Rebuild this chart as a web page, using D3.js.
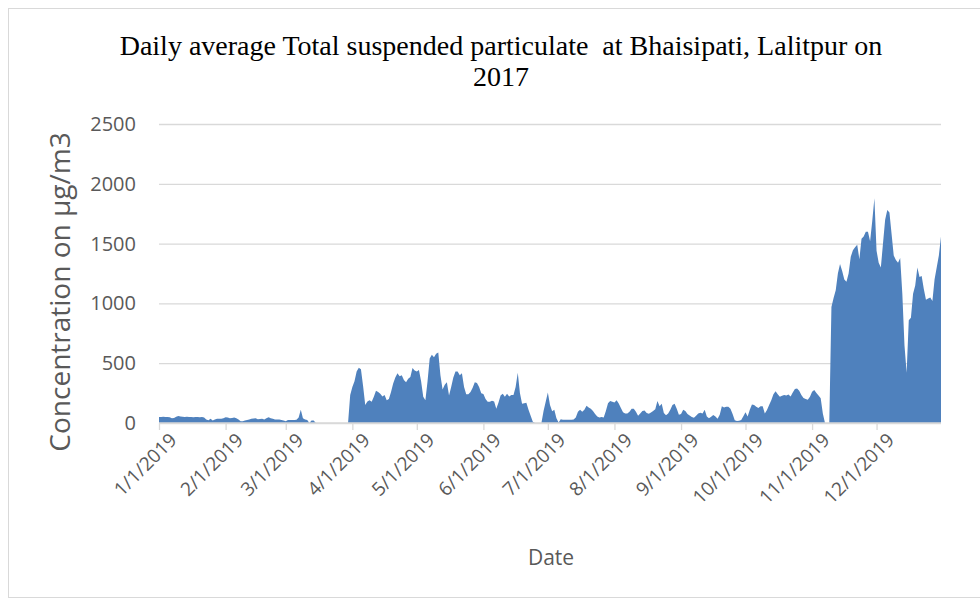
<!DOCTYPE html>
<html>
<head>
<meta charset="utf-8">
<script src="https://cdnjs.cloudflare.com/ajax/libs/d3/7.8.5/d3.min.js"></script>
<style>
  body { margin: 0; background: #fff; }
  svg { display: block; }
</style>
</head>
<body>
<svg id="canvas"></svg>
<script>
/***********************************************************************/
// Data (daily TSP, one array per month; 0 = no reading)

var jan = [50,50,52,50,50,48,40,42,52,58,55,52,50,52,50,50,48,50,50,48,50,45,30,22,35,20,30,35,35,35,40];
var feb = [48,45,40,42,45,40,30,15,15,20,25,30,35,38,40,32,33,35,30,40,48,40,35,30,30,30,25,20];
var mar = [15,25,25,25,25,28,45,110,40,30,25,0,20,20,0,0,0,0,0,0,0,0,0,0,0,0,0,0,0,0,234];
var apr = [300,350,430,462,450,310,150,180,190,178,220,270,260,245,222,234,190,200,260,330,380,415,390,400,360,340,370,385,460,440];
var may = [430,443,350,220,190,350,540,570,550,580,590,400,280,320,340,230,300,380,430,430,400,415,300,240,240,260,295,340,335,300,248];
var jun = [242,200,178,178,185,180,120,170,230,245,220,245,222,234,234,300,420,250,160,165,170,110,60,10,0,0,0,0,100,178];
var jul = [256,150,98,110,40,5,31,28,28,28,28,28,30,45,95,110,95,110,145,130,120,100,75,55,45,50,45,100,165,184,178];
var aug = [172,190,164,125,90,80,80,95,120,120,95,60,80,100,105,84,78,88,100,115,184,140,160,84,65,80,110,150,160,120,70];
var sep = [75,110,100,75,62,50,44,60,80,86,80,110,55,40,53,67,55,35,70,140,130,135,135,120,75,22,17,18,25,56];
var oct = [90,55,110,155,150,135,125,140,140,80,109,150,190,240,265,240,220,228,235,230,238,222,255,285,288,270,235,210,200,195,220];
var nov = [262,276,250,230,206,80,0,0,0,970,1045,1110,1250,1330,1270,1200,1180,1250,1390,1445,1470,1490,1370,1540,1560,1600,1600,1520,1690,1880];
var dec = [1440,1340,1300,1500,1700,1780,1760,1580,1400,1363,1340,1380,1080,650,420,860,880,1080,1150,1300,1220,1230,1120,1030,1040,1050,1020,1200,1300,1400,1560];

var xTickLabels = ['1/1/2019','2/1/2019','3/1/2019','4/1/2019','5/1/2019','6/1/2019',
                   '7/1/2019','8/1/2019','9/1/2019','10/1/2019','11/1/2019','12/1/2019'];
var yTicks = [0, 500, 1000, 1500, 2000, 2500];

var titleLines = ['Daily average Total suspended particulate  at Bhaisipati, Lalitpur on', '2017'];
var yTitle = 'Concentration on \u03bcg/m3';
var xTitle = 'Date';

/***********************************************************************/
// Layout

var width = 980, height = 601;
var plot = { left: 159, right: 941, top: 124, bottom: 423 };
var grey = '#595959', gridColor = '#d9d9d9', fillColor = '#4f81bd';

var parseDate = d3.timeParse('%m/%d/%Y');

var values = [].concat(jan, feb, mar, apr, may, jun, jul, aug, sep, oct, nov, dec);
var days = d3.timeDay.range(new Date(2019, 0, 1), new Date(2020, 0, 1));
var series = days.map((d, i) => { return { date: d, value: values[i] } });

var svg = d3.select('#canvas').attr('width', width).attr('height', height);

// chart frame
svg.append('rect')
  .attr('x', 8.5).attr('y', 8.5).attr('width', 1000).attr('height', 589)
  .attr('fill', 'none').attr('stroke', gridColor).attr('stroke-width', 1);

var xScale = d3.scaleTime()
  .domain([days[0], days[days.length - 1]])
  .range([plot.left, plot.right]);

var yScale = d3.scaleLinear().domain([0, 2500]).range([plot.bottom, plot.top]);

/***********************************************************************/
// Grid + y axis

var yAxis = d3.axisLeft(yScale).tickValues(yTicks).tickFormat(d3.format('d'))
  .tickSize(-(plot.right - plot.left)).tickPadding(23);
var yG = svg.append('g').attr('transform', 'translate(' + plot.left + ',0)').call(yAxis);
yG.select('.domain').remove();
yG.selectAll('line').attr('stroke', gridColor).attr('stroke-width', 1.3);
yG.selectAll('text').attr('fill', grey).style('font-family', 'Open Sans').style('font-size', '20px');

/***********************************************************************/
// Area

var area = d3.area()
  .x(d => xScale(d.date))
  .y0(yScale(0))
  .y1(d => yScale(d.value));

svg.append('path').datum(series)
  .attr('fill', fillColor)
  .attr('d', area);

/***********************************************************************/
// X axis

var tickDates = xTickLabels.map(parseDate);
var xAxis = d3.axisBottom(xScale).tickValues(tickDates).tickSize(7).tickFormat((d, i) => xTickLabels[i]);
var xG = svg.append('g').attr('transform', 'translate(0,' + plot.bottom + ')').call(xAxis);
xG.select('.domain').attr('stroke', gridColor).attr('stroke-width', 1.3)
  .attr('d', 'M' + plot.left + ',0H' + plot.right);
xG.selectAll('line').attr('stroke', gridColor).attr('stroke-width', 1.3);
xG.selectAll('text')
  .attr('fill', grey)
  .style('font-family', 'Open Sans').style('font-size', '19px')
  .attr('text-anchor', 'end')
  .attr('dy', '0.35em')
  .attr('transform', 'translate(8,8) rotate(-45)')
  .attr('x', 0).attr('y', 8);

/***********************************************************************/
// Titles

svg.append('g').selectAll('text').data(titleLines).enter().append('text')
  .attr('x', 501).attr('y', (d, i) => 55 + i * 31)
  .attr('text-anchor', 'middle')
  .attr('xml:space', 'preserve')
  .style('white-space', 'pre')
  .style('font-family', 'Liberation Serif').style('font-size', '28px')
  .attr('fill', '#000')
  .text(d => d);

svg.append('text')
  .attr('transform', 'translate(70,292) rotate(-90)')
  .attr('text-anchor', 'middle')
  .style('font-family', 'Open Sans').style('font-size', '28px')
  .attr('fill', grey)
  .text(yTitle);

svg.append('text')
  .attr('x', 551).attr('y', 565)
  .attr('text-anchor', 'middle')
  .style('font-family', 'Open Sans').style('font-size', '21px')
  .attr('fill', grey)
  .text(xTitle);
</script>
</body>
</html>
